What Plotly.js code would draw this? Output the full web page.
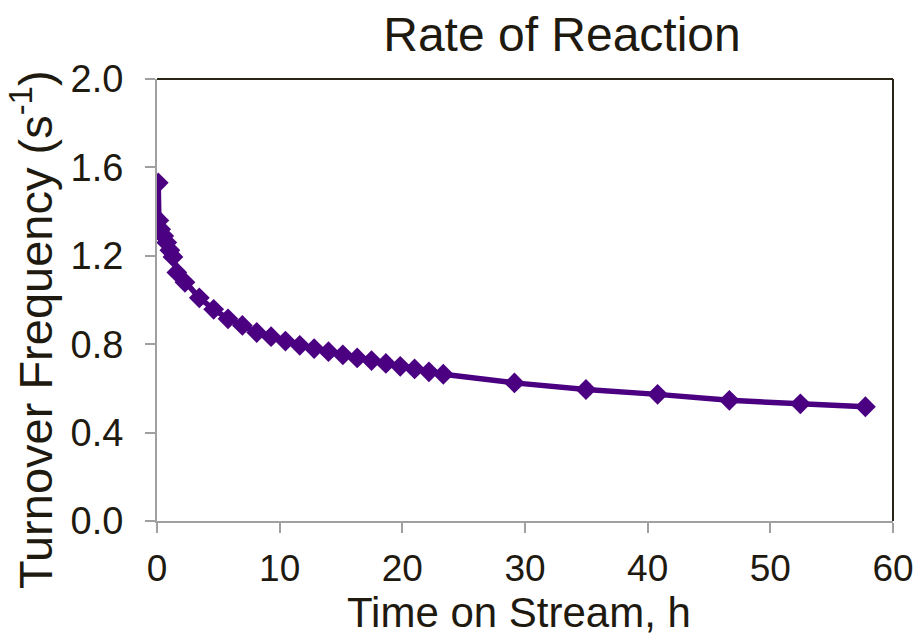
<!DOCTYPE html>
<html>
<head>
<meta charset="utf-8">
<script src="https://cdn.plot.ly/plotly-3.0.1.min.js"></script>
<style>
  html, body { margin: 0; padding: 0; background: #ffffff; }
  #chart { width: 916px; height: 639px; }
</style>
</head>
<body>
<div id="chart"></div>
<script>
// Time on stream (h) and turnover frequency (s^-1)
const timeOnStream = [
  0.10, 0.15, 0.30, 0.55, 0.80, 1.05, 1.30, 1.62, 2.28, 3.45,
  4.62, 5.79, 6.96, 8.13, 9.30, 10.47, 11.64, 12.81, 13.98, 15.15,
  16.32, 17.49, 18.66, 19.83, 21.00, 22.17, 23.34, 29.14, 34.97, 40.81,
  46.66, 52.45, 57.75
];
const turnoverFreq = [
  1.53, 1.36, 1.32, 1.29, 1.26, 1.225, 1.195, 1.125, 1.08, 1.01,
  0.958, 0.915, 0.885, 0.853, 0.834, 0.814, 0.795, 0.780, 0.766, 0.752,
  0.738, 0.726, 0.713, 0.700, 0.688, 0.675, 0.664, 0.625, 0.595, 0.573,
  0.546, 0.530, 0.517
];
const xTicks = [0, 10, 20, 30, 40, 50, 60];
const yTicks = [0.0, 0.4, 0.8, 1.2, 1.6, 2.0];

const textColor = '#1f1a10';
const axisGray = '#a0a0a0';
const frameDark = '#2b2518';
const seriesColor = '#4B0082';
const font = 'Arial, "Liberation Sans", sans-serif';

const trace = {
  x: timeOnStream,
  y: turnoverFreq,
  type: 'scatter',
  mode: 'lines+markers',
  line: { color: seriesColor, width: 5.5 },
  marker: { symbol: 'diamond', size: 16, color: seriesColor },
  hoverinfo: 'x+y'
};

const layout = {
  width: 916,
  height: 639,
  margin: { l: 157, r: 23, t: 79, b: 118, pad: 0 },
  paper_bgcolor: '#ffffff',
  plot_bgcolor: '#ffffff',
  showlegend: false,
  font: { family: font, color: textColor },
  title: {
    text: 'Rate of Reaction',
    font: { family: font, size: 48, color: textColor },
    x: 562 / 916, xanchor: 'center', xref: 'container',
    y: 1 - 34 / 639, yanchor: 'middle', yref: 'container'
  },
  xaxis: {
    range: [0, 60],
    tickvals: xTicks,
    ticktext: xTicks.map(String),
    showgrid: false,
    zeroline: false,
    showline: true,
    linecolor: axisGray,
    linewidth: 2,
    ticks: 'outside',
    ticklen: 10,
    tickwidth: 2,
    tickcolor: axisGray,
    tickfont: { family: font, size: 37, color: textColor },
    ticklabelstandoff: 4
  },
  yaxis: {
    range: [0, 2.0],
    tickvals: yTicks,
    ticktext: yTicks.map(v => v.toFixed(1)),
    showgrid: false,
    zeroline: false,
    showline: true,
    linecolor: axisGray,
    linewidth: 2,
    ticks: 'outside',
    ticklen: 10,
    tickwidth: 2,
    tickcolor: axisGray,
    tickfont: { family: font, size: 38, color: textColor },
    ticklabelstandoff: 14
  },
  annotations: [
    {
      // y-axis title
      text: 'Turnover Frequency (s<sup>-1</sup>)',
      textangle: -90,
      xref: 'paper', yref: 'paper',
      x: (32 - 157) / 736, y: (521 - 330) / 442,
      xanchor: 'center', yanchor: 'middle',
      showarrow: false,
      font: { family: font, size: 47, color: textColor }
    },
    {
      // x-axis title
      text: 'Time on Stream, h',
      xref: 'paper', yref: 'paper',
      x: (519 - 157) / 736, y: (521 - 612) / 442,
      xanchor: 'center', yanchor: 'middle',
      showarrow: false,
      font: { family: font, size: 42, color: textColor }
    }
  ],
  shapes: [
    // dark frame on the top and right edges of the plot area
    { type: 'line', xref: 'paper', yref: 'paper', x0: 0, x1: 1, y0: 1, y1: 1,
      line: { color: frameDark, width: 2 } },
    { type: 'line', xref: 'paper', yref: 'paper', x0: 1, x1: 1, y0: 0, y1: 1,
      line: { color: frameDark, width: 2 } }
  ]
};

Plotly.newPlot('chart', [trace], layout, { displayModeBar: false, staticPlot: true });
</script>
</body>
</html>
